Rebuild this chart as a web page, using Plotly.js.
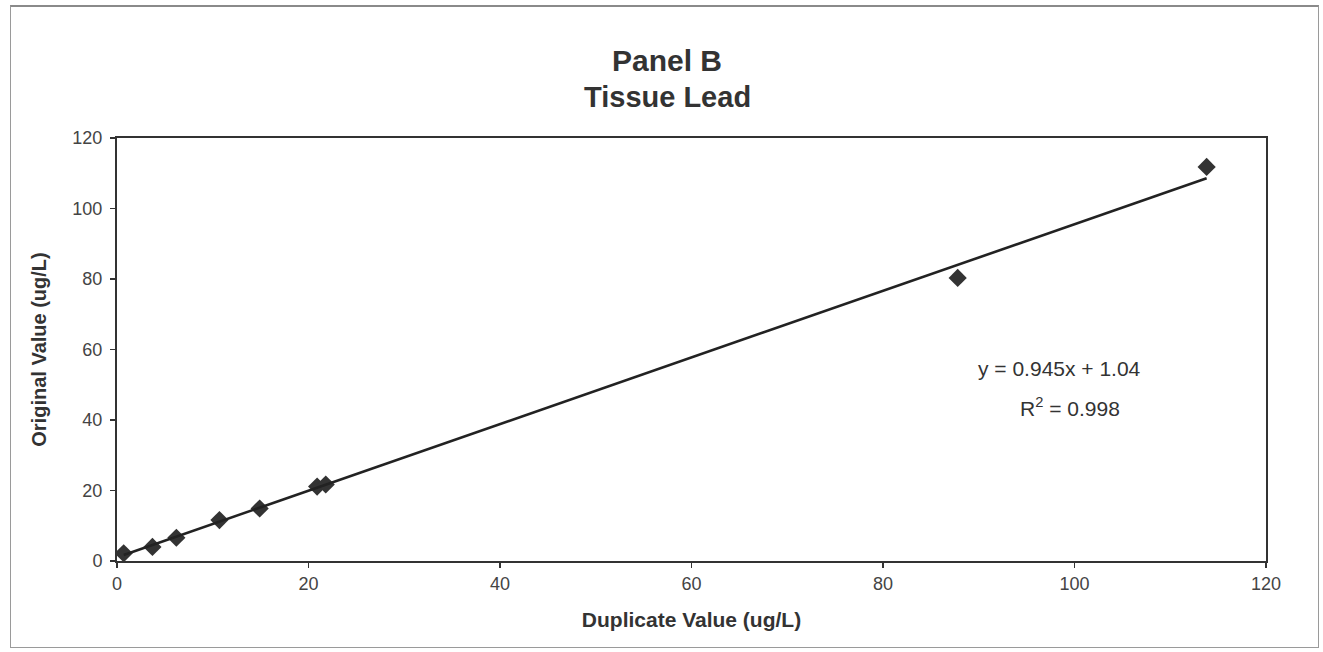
<!DOCTYPE html>
<html>
<head>
<meta charset="utf-8">
<script src="https://cdn.plot.ly/plotly-3.0.1.min.js"></script>
<style>
  html, body { margin: 0; padding: 0; background: #fff; }
  #frame { position: absolute; left: 10px; top: 5px; width: 1307px; height: 640px; border: 1.5px solid #9a9a9a; border-top: 2px solid #8a8a8a; pointer-events: none; }
  #chart { position: absolute; left: 0; top: 0; width: 1323px; height: 652px; }
</style>
</head>
<body>
<div id="chart"></div>
<div id="frame"></div>
<script>
// Data
const duplicateValues = [0.7, 3.7, 6.2, 10.7, 14.9, 20.9, 21.8, 87.8, 113.8];
const originalValues  = [2.2, 4.0, 6.6, 11.6, 14.9, 21.1, 21.7, 80.3, 111.8];
const fitSlope = 0.945;
const fitIntercept = 1.04;
const fitR2 = 0.998;
const titleLines = ['Panel B', 'Tissue Lead'];
const xTicks = [0, 20, 40, 60, 80, 100, 120];
const yTicks = [0, 20, 40, 60, 80, 100, 120];

const xMin = Math.min(...duplicateValues);
const xMax = Math.max(...duplicateValues);
const fitX = [xMin, xMax];
const fitY = fitX.map(v => fitSlope * v + fitIntercept);

const traces = [
  {
    x: duplicateValues, y: originalValues, type: 'scatter', mode: 'markers',
    marker: { symbol: 'diamond', size: 14, color: '#333333' },
    showlegend: false, hoverinfo: 'x+y'
  },
  {
    x: fitX, y: fitY, type: 'scatter', mode: 'lines',
    line: { color: '#222222', width: 2.6 },
    showlegend: false, hoverinfo: 'skip'
  }
];

const fontFam = '"Liberation Sans", Arial, sans-serif';
const layout = {
  width: 1323, height: 652,
  paper_bgcolor: '#ffffff', plot_bgcolor: '#ffffff',
  margin: { l: 117, r: 57, t: 138, b: 91 },
  xaxis: {
    range: [0, 120], tickvals: xTicks, ticktext: xTicks.map(String),
    showgrid: false, zeroline: false, showline: true, mirror: true,
    linecolor: '#333333', linewidth: 2,
    ticks: 'outside', ticklen: 5, tickwidth: 1.2, tickcolor: '#333333',
    tickfont: { family: fontFam, size: 18, color: '#444444' },
    title: { text: '<b>Duplicate Value (ug/L)</b>', font: { family: fontFam, size: 21, color: '#333333' }, standoff: 20 },
    fixedrange: true
  },
  yaxis: {
    range: [0, 120], tickvals: yTicks, ticktext: yTicks.map(String),
    showgrid: false, zeroline: false, showline: true, mirror: true,
    linecolor: '#333333', linewidth: 2,
    ticks: 'outside', ticklen: 5, tickwidth: 1.2, tickcolor: '#333333',
    ticklabelstandoff: 4,
    tickfont: { family: fontFam, size: 18, color: '#444444' },
    title: { text: '<b>Original Value (ug/L)</b>', font: { family: fontFam, size: 20, color: '#333333' }, standoff: 20 },
    fixedrange: true
  },
  annotations: [
    {
      xref: 'paper', yref: 'paper', x: 0.4787, y: 1.184, xanchor: 'center', yanchor: 'middle',
      text: '<b>' + titleLines[0] + '</b>', showarrow: false,
      font: { family: fontFam, size: 30, color: '#333333' }
    },
    {
      xref: 'paper', yref: 'paper', x: 0.4787, y: 1.097, xanchor: 'center', yanchor: 'middle',
      text: '<b>' + titleLines[1] + '</b>', showarrow: false,
      font: { family: fontFam, size: 29, color: '#333333' }
    },
    {
      xref: 'x', yref: 'y', x: 98.4, y: 54.5, xanchor: 'center', yanchor: 'middle',
      text: 'y = ' + fitSlope + 'x + ' + fitIntercept,
      showarrow: false, font: { family: fontFam, size: 21, color: '#333333' }
    },
    {
      xref: 'x', yref: 'y', x: 99.5, y: 43.8, xanchor: 'center', yanchor: 'middle',
      text: 'R<sup>2</sup> = ' + fitR2,
      showarrow: false, font: { family: fontFam, size: 21, color: '#333333' }
    }
  ]
};

Plotly.newPlot('chart', traces, layout, { displayModeBar: false, staticPlot: true });
</script>
</body>
</html>
